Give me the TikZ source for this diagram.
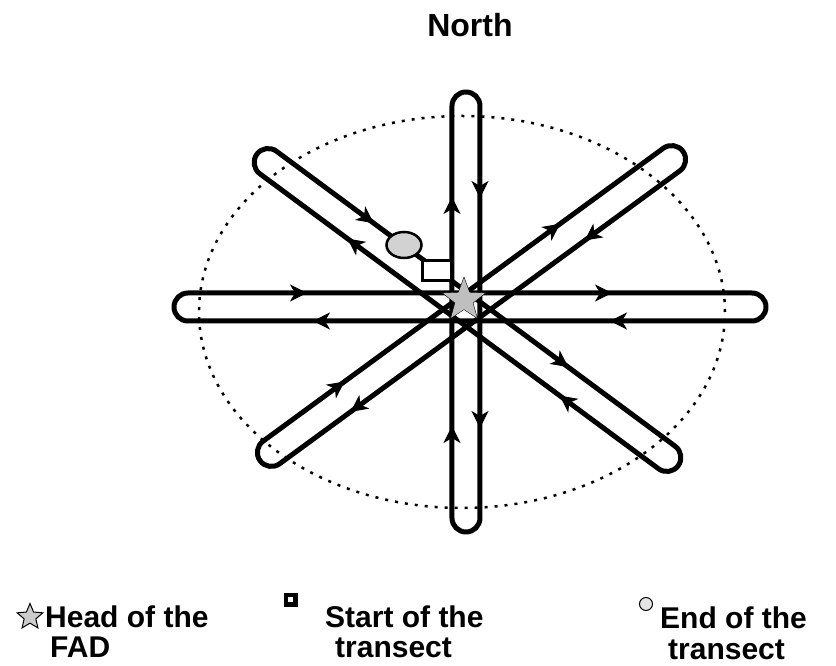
\documentclass[tikz,border=0pt]{standalone}
\usepackage{fontspec}
\setmainfont{Liberation Sans}
\usetikzlibrary{arrows.meta, shapes.geometric}

\begin{document}
\begin{tikzpicture}[x=1pt, y=1pt,
  loopline/.style={line width=5pt, line join=round},
  flow/.style={line width=1pt, -{Stealth[length=17pt, width=17pt, inset=5pt]}},
  keytext/.style={font=\fontsize{30}{31}\selectfont\bfseries, inner sep=0pt, align=left}]
  \useasboundingbox (-466,-358) rectangle (370,308);
  % dotted ellipse round the transects
  \draw[line width=2.5pt, dash pattern=on 3pt off 7pt, black] (-4,-4) ellipse [x radius=263, y radius=196];
  % angle / half length / centre / tips of the arrows on the upper and the lower side
  \foreach \ang/\len/\cx/\cy/\ua/\ub/\la/\lb in {0/282/4/1/-163/142/-157/140,
      90/206/0/-4/-114/115/-116/114,
      -36.5/248/1.5/-2/-127/115/-139/125,
      36.2/248/5.5/2/-147/120/-160/130}
  {
    \begin{scope}[shift={(\cx,\cy)}, rotate=\ang]
      \draw[loopline] (-\len,14) -- (\len,14) arc[start angle=90, end angle=-90, radius=14]
        -- (-\len,-14) arc[start angle=270, end angle=90, radius=14] -- cycle;
      \draw[flow] (\ua-14,14) -- (\ua,14);
      \draw[flow] (\ub-14,14) -- (\ub,14);
      \draw[flow] (\la+14,-14) -- (\la,-14);
      \draw[flow] (\lb+14,-14) -- (\lb,-14);
    \end{scope}
  }
  % head, start and end
  \node[rectangle, draw, line width=3pt, fill=white, minimum width=29pt, minimum height=20pt] (start) at (-28.5,37) {};
  \node[ellipse, draw, line width=2.5pt, fill=gray!35, minimum width=35pt, minimum height=26pt, inner sep=0pt] (stop) at (-62,63) {};
  \node[star, star points=5, star point ratio=2.4, minimum size=46pt, draw, fill=gray!50, inner sep=0pt] (head) at (-2,8) {};
  \node[keytext, font=\fontsize{32}{32}\selectfont\bfseries, anchor=base] (north) at (4,271) {North};
  % legend
  \node[star, star points=5, star point ratio=2.2, minimum size=27pt, draw, line width=1pt, fill=gray!40, inner sep=0pt] (keystar) at (-436,-309) {};
  \node[keytext, anchor=base west] (keyhead) at (-421,-350) {Head of the\\\hspace{5pt}FAD};
  \node[fill=black, minimum size=14pt, inner sep=0pt] (keysquare) at (-175,-292) {};
  \node[fill=white, minimum size=5pt, inner sep=0pt] (keyhole) at (keysquare) {};
  \node[keytext, anchor=base west] (keystart) at (-141,-350) {Start of the\\\hspace{10pt}transect};
  \node[circle, draw, line width=1pt, fill=gray!20, minimum size=13pt, inner sep=0pt] (keyend) at (180,-296) {};
  \node[keytext, anchor=base west] (keystop) at (194,-352) {End of the\\\hspace{8pt}transect};
\end{tikzpicture}
\end{document}
